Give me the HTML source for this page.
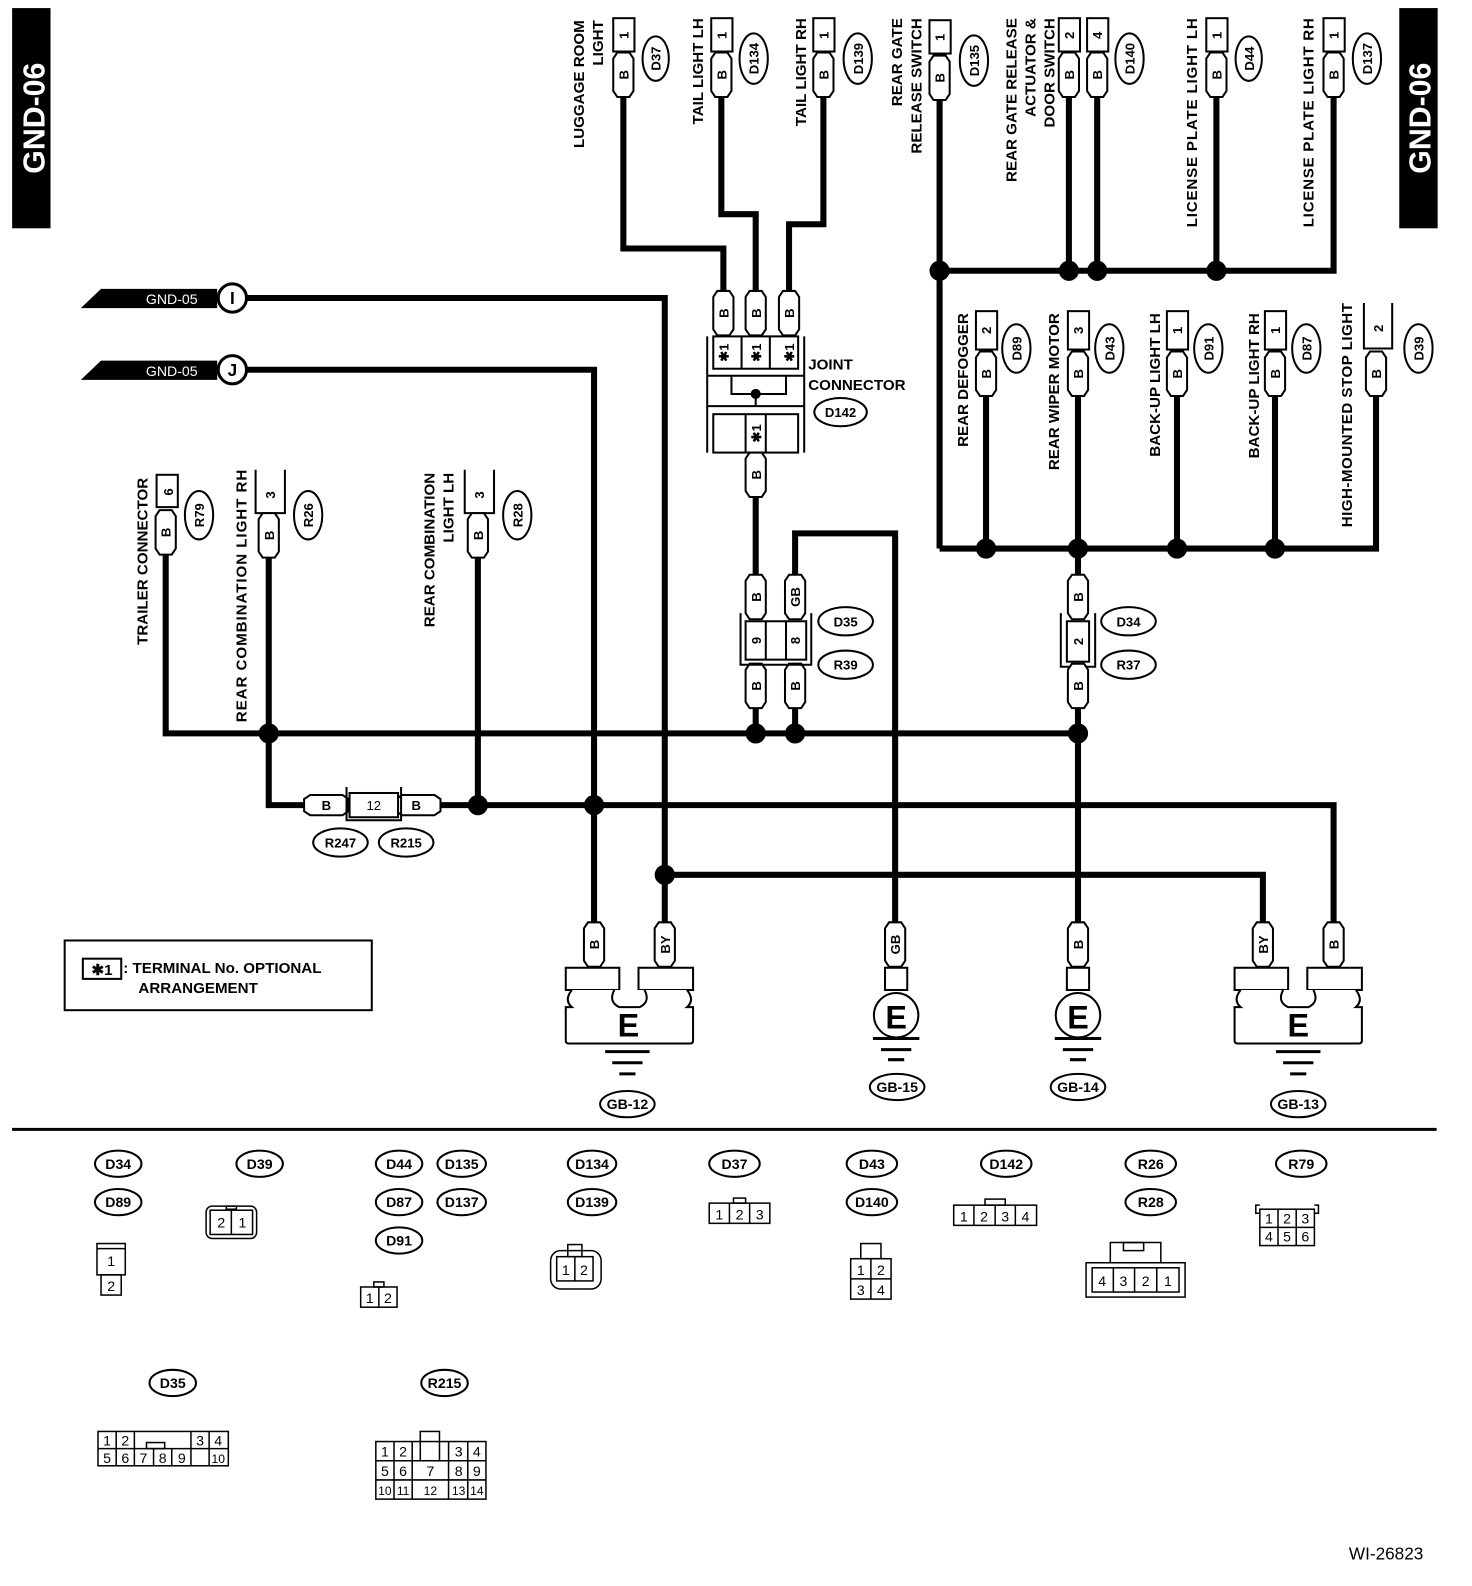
<!DOCTYPE html>
<html><head><meta charset="utf-8"><style>
html,body{margin:0;padding:0;background:#fff}
svg{display:block}
text{font-family:"Liberation Sans",sans-serif;font-weight:bold;fill:#000}
.n{font-weight:normal}
</style></head><body>
<svg width="1472" height="1586" viewBox="0 0 1457 1570" preserveAspectRatio="none" xmlns="http://www.w3.org/2000/svg">
<defs>
<path id="tg" d="M-10,-16 L-6,-22 L6,-22 L10,-16 L10,16 L6,22 L-6,22 L-10,16 Z" fill="#fff" stroke="#000" stroke-width="2"/>
</defs>
<!-- side tabs -->
<rect x="12" y="8" width="38" height="218" fill="#000"/>
<text transform="translate(44,117) rotate(-90)" text-anchor="middle" font-size="30" style="fill:#fff">GND-06</text>
<rect x="1385" y="8" width="38" height="218" fill="#000"/>
<text transform="translate(1416,117) rotate(-90)" text-anchor="middle" font-size="30" style="fill:#fff">GND-06</text>

<g fill="none" stroke="#000" stroke-width="6">
<!-- top left group -->
<polyline points="617,96 617,246 716,246 716,290"/>
<polyline points="714,96 714,212 748,212 748,290"/>
<polyline points="815,96 815,222 781,222 781,290"/>
<line x1="748" y1="490" x2="748" y2="570"/>
<polyline points="787,570 787,528 886,528 886,915"/>
<line x1="748" y1="700" x2="748" y2="726"/>
<line x1="787" y1="700" x2="787" y2="726"/>
<!-- main buses -->
<polyline points="164,548 164,726 1067,726"/>
<polyline points="266,548 266,797 303,797"/>
<line x1="473" y1="548" x2="473" y2="797"/>
<polyline points="431,797 1320,797 1320,915"/>
<polyline points="245,295 658,295 658,915"/>
<polyline points="245,366 588,366 588,915"/>
<polyline points="658,866 1250,866 1250,915"/>
<!-- right top -->
<line x1="930" y1="100" x2="930" y2="543"/>
<polyline points="930,268 1320,268 1320,96"/>
<line x1="1058" y1="96" x2="1058" y2="268"/>
<line x1="1086" y1="96" x2="1086" y2="268"/>
<line x1="1204" y1="96" x2="1204" y2="268"/>
<polyline points="930,543 1362,543 1362,390"/>
<line x1="976" y1="390" x2="976" y2="543"/>
<line x1="1067" y1="390" x2="1067" y2="570"/>
<line x1="1165" y1="390" x2="1165" y2="543"/>
<line x1="1262" y1="390" x2="1262" y2="543"/>
<line x1="1067" y1="700" x2="1067" y2="915"/>
</g>
<g fill="#000">
<circle cx="266" cy="726" r="10"/><circle cx="748" cy="726" r="10"/><circle cx="787" cy="726" r="10"/><circle cx="1067" cy="726" r="10"/>
<circle cx="473" cy="797" r="10"/><circle cx="588" cy="797" r="10"/><circle cx="658" cy="866" r="10"/>
<circle cx="930" cy="268" r="10"/><circle cx="1058" cy="268" r="10"/><circle cx="1086" cy="268" r="10"/><circle cx="1204" cy="268" r="10"/>
<circle cx="976" cy="543" r="10"/><circle cx="1067" cy="543" r="10"/><circle cx="1165" cy="543" r="10"/><circle cx="1262" cy="543" r="10"/>
</g>

<!-- top connectors -->
<g fill="#fff" stroke="#000" stroke-width="2">
<rect x="607" y="18" width="21" height="33"/><rect x="704" y="18" width="21" height="33"/><rect x="805" y="18" width="21" height="33"/>
<rect x="920" y="20" width="21" height="33"/><rect x="1048" y="18" width="21" height="33"/><rect x="1076" y="18" width="21" height="33"/>
<rect x="1194" y="18" width="21" height="33"/><rect x="1310" y="18" width="21" height="33"/>
<ellipse cx="649" cy="58" rx="13" ry="22"/><ellipse cx="746" cy="58" rx="14" ry="25"/><ellipse cx="849" cy="58" rx="14" ry="25"/>
<ellipse cx="964" cy="60" rx="14" ry="25"/><ellipse cx="1118" cy="58" rx="14" ry="25"/><ellipse cx="1236" cy="58" rx="13" ry="22"/><ellipse cx="1353" cy="58" rx="14" ry="25"/>
</g>
<use href="#tg" x="617" y="74"/><use href="#tg" x="714" y="74"/><use href="#tg" x="815" y="74"/><use href="#tg" x="930" y="77"/>
<use href="#tg" x="1058" y="74"/><use href="#tg" x="1086" y="74"/><use href="#tg" x="1204" y="74"/><use href="#tg" x="1320" y="74"/>
<g font-size="13" text-anchor="middle">
<text transform="translate(622,35) rotate(-90)">1</text><text transform="translate(719,35) rotate(-90)">1</text><text transform="translate(820,35) rotate(-90)">1</text>
<text transform="translate(935,37) rotate(-90)">1</text><text transform="translate(1063,35) rotate(-90)">2</text><text transform="translate(1091,35) rotate(-90)">4</text>
<text transform="translate(1209,35) rotate(-90)">1</text><text transform="translate(1325,35) rotate(-90)">1</text>
<text transform="translate(622,74) rotate(-90)">B</text><text transform="translate(719,74) rotate(-90)">B</text><text transform="translate(820,74) rotate(-90)">B</text>
<text transform="translate(935,77) rotate(-90)">B</text><text transform="translate(1063,74) rotate(-90)">B</text><text transform="translate(1091,74) rotate(-90)">B</text>
<text transform="translate(1209,74) rotate(-90)">B</text><text transform="translate(1325,74) rotate(-90)">B</text>
<text transform="translate(654,58) rotate(-90)">D37</text><text transform="translate(751,58) rotate(-90)">D134</text><text transform="translate(854,58) rotate(-90)">D139</text>
<text transform="translate(969,60) rotate(-90)">D135</text><text transform="translate(1123,58) rotate(-90)">D140</text><text transform="translate(1241,58) rotate(-90)">D44</text><text transform="translate(1358,58) rotate(-90)">D137</text>
</g>
<g font-size="15" text-anchor="end">
<text transform="translate(578,20) rotate(-90)">LUGGAGE ROOM</text><text transform="translate(597,20) rotate(-90)">LIGHT</text>
<text transform="translate(696,18) rotate(-90)">TAIL LIGHT LH</text><text transform="translate(798,18) rotate(-90)">TAIL LIGHT RH</text>
<text transform="translate(893,18) rotate(-90)">REAR GATE</text><text transform="translate(912,18) rotate(-90)">RELEASE SWITCH</text>
<text transform="translate(1006,18) rotate(-90)">REAR GATE RELEASE</text><text transform="translate(1025,18) rotate(-90)">ACTUATOR &amp;</text><text transform="translate(1044,18) rotate(-90)">DOOR SWITCH</text>
<text transform="translate(1185,18) rotate(-90)" textLength="207">LICENSE PLATE LIGHT LH</text><text transform="translate(1300,18) rotate(-90)" textLength="207">LICENSE PLATE LIGHT RH</text>
</g>

<!-- joint connector -->
<use href="#tg" x="716" y="310"/><use href="#tg" x="748" y="310"/><use href="#tg" x="781" y="310"/>
<g fill="none" stroke="#000" stroke-width="2">
<line x1="700" y1="333" x2="700" y2="448"/><line x1="796" y1="333" x2="796" y2="448"/>
<rect x="706" y="333" width="84" height="32"/><line x1="734" y1="333" x2="734" y2="365"/><line x1="762" y1="333" x2="762" y2="365"/>
<line x1="700" y1="372" x2="796" y2="372"/><polyline points="724,372 724,390 778,390 778,372"/><line x1="748" y1="390" x2="748" y2="402"/>
<line x1="700" y1="402" x2="796" y2="402"/><rect x="706" y="410" width="84" height="38"/><line x1="738" y1="410" x2="738" y2="448"/><line x1="758" y1="410" x2="758" y2="448"/>
</g>
<circle cx="748" cy="390" r="5"/>
<use href="#tg" x="748" y="470"/>
<g font-size="13" text-anchor="middle">
<text transform="translate(721,310) rotate(-90)">B</text><text transform="translate(753,310) rotate(-90)">B</text><text transform="translate(786,310) rotate(-90)">B</text>
<text transform="translate(721,349) rotate(-90)">✱1</text><text transform="translate(753,349) rotate(-90)">✱1</text><text transform="translate(786,349) rotate(-90)">✱1</text>
<text transform="translate(753,429) rotate(-90)">✱1</text><text transform="translate(753,470) rotate(-90)">B</text>
</g>
<text x="800" y="366" font-size="15">JOINT</text><text x="800" y="386" font-size="15">CONNECTOR</text>
<ellipse cx="832" cy="408" rx="26" ry="14" fill="#fff" stroke="#000" stroke-width="2"/><text x="832" y="413" font-size="13" text-anchor="middle">D142</text>

<!-- D35/R39 -->
<use href="#tg" x="748" y="591"/><use href="#tg" x="787" y="591"/><use href="#tg" x="748" y="679"/><use href="#tg" x="787" y="679"/>
<g fill="none" stroke="#000" stroke-width="2">
<rect x="738" y="615" width="60" height="38"/><line x1="758" y1="615" x2="758" y2="653"/><line x1="778" y1="615" x2="778" y2="653"/>
<polyline points="733,607 733,658 803,658 803,607"/>
<rect x="1056" y="615" width="22" height="40"/><polyline points="1050,607 1050,660 1084,660 1084,607"/>
</g>
<g fill="#fff" stroke="#000" stroke-width="2">
<ellipse cx="837" cy="615" rx="27" ry="14"/><ellipse cx="837" cy="658" rx="27" ry="14"/>
<ellipse cx="1117" cy="615" rx="27" ry="14"/><ellipse cx="1117" cy="658" rx="27" ry="14"/>
</g>
<use href="#tg" x="1067" y="591"/><use href="#tg" x="1067" y="679"/>
<g font-size="13" text-anchor="middle">
<text transform="translate(753,591) rotate(-90)">B</text><text transform="translate(792,591) rotate(-90)">GB</text>
<text transform="translate(753,679) rotate(-90)">B</text><text transform="translate(792,679) rotate(-90)">B</text>
<text transform="translate(753,634) rotate(-90)">9</text><text transform="translate(792,634) rotate(-90)">8</text>
<text transform="translate(1072,591) rotate(-90)">B</text><text transform="translate(1072,679) rotate(-90)">B</text><text transform="translate(1072,635) rotate(-90)">2</text>
<text x="837" y="620">D35</text><text x="837" y="663">R39</text><text x="1117" y="620">D34</text><text x="1117" y="663">R37</text>
</g>

<!-- lower-right connectors -->
<g fill="#fff" stroke="#000" stroke-width="2">
<rect x="966" y="308" width="21" height="38"/><rect x="1057" y="308" width="21" height="38"/><rect x="1155" y="308" width="21" height="38"/><rect x="1252" y="308" width="21" height="38"/>
<ellipse cx="1006" cy="345" rx="14" ry="24"/><ellipse cx="1098" cy="345" rx="14" ry="24"/><ellipse cx="1196" cy="345" rx="14" ry="24"/><ellipse cx="1293" cy="345" rx="14" ry="24"/><ellipse cx="1404" cy="345" rx="14" ry="24"/>
</g>
<polyline points="1350,300 1350,345 1378,345 1378,300" fill="none" stroke="#000" stroke-width="2"/>
<use href="#tg" x="976" y="370"/><use href="#tg" x="1067" y="370"/><use href="#tg" x="1165" y="370"/><use href="#tg" x="1262" y="370"/><use href="#tg" x="1362" y="370"/>
<g font-size="13" text-anchor="middle">
<text transform="translate(981,327) rotate(-90)">2</text><text transform="translate(1072,327) rotate(-90)">3</text><text transform="translate(1170,327) rotate(-90)">1</text><text transform="translate(1267,327) rotate(-90)">1</text><text transform="translate(1369,325) rotate(-90)">2</text>
<text transform="translate(981,370) rotate(-90)">B</text><text transform="translate(1072,370) rotate(-90)">B</text><text transform="translate(1170,370) rotate(-90)">B</text><text transform="translate(1267,370) rotate(-90)">B</text><text transform="translate(1367,370) rotate(-90)">B</text>
<text transform="translate(1011,345) rotate(-90)">D89</text><text transform="translate(1103,345) rotate(-90)">D43</text><text transform="translate(1201,345) rotate(-90)">D91</text><text transform="translate(1298,345) rotate(-90)">D87</text><text transform="translate(1409,345) rotate(-90)">D39</text>
</g>
<g font-size="15" text-anchor="end">
<text transform="translate(958,310) rotate(-90)">REAR DEFOGGER</text><text transform="translate(1048,310) rotate(-90)">REAR WIPER MOTOR</text>
<text transform="translate(1148,310) rotate(-90)">BACK-UP LIGHT LH</text><text transform="translate(1246,310) rotate(-90)">BACK-UP LIGHT RH</text>
<text transform="translate(1338,300) rotate(-90)" textLength="222">HIGH-MOUNTED STOP LIGHT</text>
</g>

<!-- left connectors -->
<g fill="#fff" stroke="#000" stroke-width="2">
<rect x="155" y="470" width="21" height="32"/>
<ellipse cx="197" cy="510" rx="14" ry="24"/><ellipse cx="305" cy="510" rx="14" ry="24"/><ellipse cx="512" cy="510" rx="14" ry="24"/>
</g>
<g fill="none" stroke="#000" stroke-width="2"><polyline points="253,465 253,508 282,508 282,465"/><polyline points="460,465 460,508 489,508 489,465"/></g>
<use href="#tg" x="164" y="527"/><use href="#tg" x="266" y="530"/><use href="#tg" x="473" y="530"/>
<g font-size="13" text-anchor="middle">
<text transform="translate(171,487) rotate(-90)">6</text><text transform="translate(272,490) rotate(-90)">3</text><text transform="translate(479,490) rotate(-90)">3</text>
<text transform="translate(169,527) rotate(-90)">B</text><text transform="translate(271,530) rotate(-90)">B</text><text transform="translate(478,530) rotate(-90)">B</text>
<text transform="translate(202,510) rotate(-90)">R79</text><text transform="translate(310,510) rotate(-90)">R26</text><text transform="translate(517,510) rotate(-90)">R28</text>
</g>
<g font-size="15" text-anchor="end">
<text transform="translate(146,473) rotate(-90)">TRAILER CONNECTOR</text>
<text transform="translate(244,465) rotate(-90)" textLength="250">REAR COMBINATION LIGHT RH</text>
<text transform="translate(430,468) rotate(-90)">REAR COMBINATION</text><text transform="translate(449,468) rotate(-90)">LIGHT LH</text>
</g>

<!-- R247/R215 -->
<use href="#tg" transform="translate(323,797) rotate(90)"/><use href="#tg" transform="translate(414,797) rotate(90)"/>
<rect x="346" y="785" width="48" height="24" fill="#fff" stroke="#000" stroke-width="2"/>
<polyline points="343,779 343,812 397,812 397,779" fill="none" stroke="#000" stroke-width="2" transform="rotate(0)"/>
<g font-size="13" text-anchor="middle">
<text x="323" y="802">B</text><text x="370" y="802" class="n">12</text><text x="412" y="802">B</text>
</g>
<g fill="#fff" stroke="#000" stroke-width="2"><ellipse cx="337" cy="834" rx="27" ry="14"/><ellipse cx="402" cy="834" rx="27" ry="14"/></g>
<text x="337" y="839" font-size="13" text-anchor="middle">R247</text><text x="402" y="839" font-size="13" text-anchor="middle">R215</text>

<!-- GND-05 arrows -->
<polygon points="80,305 100,286 215,286 215,305" fill="#000"/>
<polygon points="80,376 100,357 215,357 215,376" fill="#000"/>
<text x="170" y="301" font-size="14" text-anchor="middle" class="n" style="fill:#fff">GND-05</text>
<text x="170" y="372" font-size="14" text-anchor="middle" class="n" style="fill:#fff">GND-05</text>
<g fill="#fff" stroke="#000" stroke-width="3"><circle cx="230" cy="295" r="14"/><circle cx="230" cy="366" r="14"/></g>
<text x="230" y="301" font-size="17" text-anchor="middle">I</text><text x="230" y="372" font-size="17" text-anchor="middle">J</text>

<!-- grounds -->
<use href="#tg" x="588" y="935"/><use href="#tg" x="658" y="935"/><use href="#tg" x="886" y="935"/><use href="#tg" x="1067" y="935"/><use href="#tg" x="1250" y="935"/><use href="#tg" x="1320" y="935"/>
<g font-size="13" text-anchor="middle">
<text transform="translate(593,935) rotate(-90)">B</text><text transform="translate(663,935) rotate(-90)">BY</text><text transform="translate(891,935) rotate(-90)">GB</text>
<text transform="translate(1072,935) rotate(-90)">B</text><text transform="translate(1255,935) rotate(-90)">BY</text><text transform="translate(1325,935) rotate(-90)">B</text>
</g>
<g fill="#fff" stroke="#000" stroke-width="2">
<rect x="560" y="958" width="53" height="22"/><rect x="632" y="958" width="54" height="22"/>
<path d="M566,980 Q558,990 566,997 L560,997 L560,1030 Q560,1033 563,1033 L683,1033 Q686,1033 686,1030 L686,997 L680,997 Q688,990 680,980 M608,980 Q602,992 613,997 L633,997 Q644,992 638,980"/>
<rect x="1222" y="958" width="53" height="22"/><rect x="1294" y="958" width="54" height="22"/>
<path d="M1228,980 Q1220,990 1228,997 L1222,997 L1222,1030 Q1222,1033 1225,1033 L1345,1033 Q1348,1033 1348,1030 L1348,997 L1342,997 Q1350,990 1342,980 M1270,980 Q1264,992 1275,997 L1295,997 Q1306,992 1300,980"/>
<rect x="876" y="958" width="22" height="22"/><circle cx="887" cy="1005" r="22"/>
<rect x="1056" y="958" width="22" height="22"/><circle cx="1067" cy="1005" r="22"/>
</g>
<g font-size="32" text-anchor="middle"><text x="622" y="1026">E</text><text x="1285" y="1026">E</text><text x="887" y="1018">E</text><text x="1067" y="1018">E</text></g>
<g stroke="#000" stroke-width="3">
<line x1="599" y1="1041" x2="643" y2="1041"/><line x1="606" y1="1052" x2="636" y2="1052"/><line x1="613" y1="1063" x2="629" y2="1063"/>
<line x1="1263" y1="1041" x2="1307" y2="1041"/><line x1="1270" y1="1052" x2="1300" y2="1052"/><line x1="1277" y1="1063" x2="1293" y2="1063"/>
<line x1="864" y1="1028" x2="910" y2="1028"/><line x1="872" y1="1039" x2="902" y2="1039"/><line x1="879" y1="1049" x2="895" y2="1049"/>
<line x1="1044" y1="1028" x2="1090" y2="1028"/><line x1="1052" y1="1039" x2="1082" y2="1039"/><line x1="1059" y1="1049" x2="1075" y2="1049"/>
</g>
<g fill="#fff" stroke="#000" stroke-width="2">
<ellipse cx="621" cy="1093" rx="27" ry="13"/><ellipse cx="888" cy="1076" rx="27" ry="13"/><ellipse cx="1067" cy="1076" rx="27" ry="13"/><ellipse cx="1285" cy="1093" rx="27" ry="13"/>
</g>
<g font-size="14" text-anchor="middle"><text x="621" y="1098">GB-12</text><text x="888" y="1081">GB-15</text><text x="1067" y="1081">GB-14</text><text x="1285" y="1098">GB-13</text></g>

<!-- legend -->
<rect x="64" y="931" width="304" height="69" fill="none" stroke="#000" stroke-width="2"/>
<rect x="82" y="949" width="38" height="20" fill="none" stroke="#000" stroke-width="2"/>
<text x="101" y="965" font-size="15" text-anchor="middle">✱1</text>
<text x="122" y="963" font-size="15">: TERMINAL No. OPTIONAL</text>
<text x="137" y="983" font-size="15">ARRANGEMENT</text>

<line x1="12" y1="1118" x2="1422" y2="1118" stroke="#000" stroke-width="3"/>

<!-- bottom connector views -->
<g fill="#fff" stroke="#000" stroke-width="2">
<ellipse cx="117" cy="1152" rx="23" ry="13"/><ellipse cx="117" cy="1190" rx="23" ry="13"/>
<ellipse cx="257" cy="1152" rx="23" ry="13"/>
<ellipse cx="395" cy="1152" rx="23" ry="13"/><ellipse cx="457" cy="1152" rx="24" ry="13"/><ellipse cx="395" cy="1190" rx="23" ry="13"/><ellipse cx="457" cy="1190" rx="24" ry="13"/><ellipse cx="395" cy="1228" rx="23" ry="13"/>
<ellipse cx="586" cy="1152" rx="24" ry="13"/><ellipse cx="586" cy="1190" rx="24" ry="13"/>
<ellipse cx="727" cy="1152" rx="25" ry="13"/>
<ellipse cx="863" cy="1152" rx="25" ry="13"/><ellipse cx="863" cy="1190" rx="25" ry="13"/>
<ellipse cx="996" cy="1152" rx="25" ry="13"/>
<ellipse cx="1139" cy="1152" rx="25" ry="13"/><ellipse cx="1139" cy="1190" rx="25" ry="13"/>
<ellipse cx="1288" cy="1152" rx="25" ry="13"/>
<ellipse cx="171" cy="1369" rx="23" ry="13"/><ellipse cx="440" cy="1369" rx="23" ry="13"/>
</g>
<g font-size="14" text-anchor="middle">
<text x="117" y="1157">D34</text><text x="117" y="1195">D89</text><text x="257" y="1157">D39</text>
<text x="395" y="1157">D44</text><text x="457" y="1157">D135</text><text x="395" y="1195">D87</text><text x="457" y="1195">D137</text><text x="395" y="1233">D91</text>
<text x="586" y="1157">D134</text><text x="586" y="1195">D139</text><text x="727" y="1157">D37</text>
<text x="863" y="1157">D43</text><text x="863" y="1195">D140</text><text x="996" y="1157">D142</text>
<text x="1139" y="1157">R26</text><text x="1139" y="1195">R28</text><text x="1288" y="1157">R79</text>
<text x="171" y="1374">D35</text><text x="440" y="1374">R215</text>
</g>
<g fill="none" stroke="#000" stroke-width="1.5">
<!-- D34 -->
<rect x="96" y="1231" width="28" height="31"/><line x1="96" y1="1236" x2="124" y2="1236"/><rect x="100" y="1262" width="20" height="20"/>
<!-- D39 -->
<rect x="204" y="1194" width="50" height="32" rx="6"/><rect x="208" y="1198" width="42" height="24"/><line x1="229" y1="1198" x2="229" y2="1222"/><rect x="224" y="1194" width="10" height="3"/>
<!-- D44 -->
<rect x="357" y="1274" width="36" height="20"/><line x1="375" y1="1274" x2="375" y2="1294"/><rect x="370" y="1269" width="10" height="5"/>
<!-- D134 -->
<rect x="545" y="1238" width="50" height="38" rx="10"/><rect x="551" y="1244" width="36" height="24"/><line x1="569" y1="1244" x2="569" y2="1268"/><rect x="562" y="1232" width="14" height="12"/>
<!-- D37 -->
<rect x="702" y="1191" width="60" height="20"/><line x1="722" y1="1191" x2="722" y2="1211"/><line x1="742" y1="1191" x2="742" y2="1211"/><rect x="726" y="1186" width="12" height="5"/>
<!-- D43 -->
<rect x="842" y="1246" width="40" height="40"/><line x1="862" y1="1246" x2="862" y2="1286"/><line x1="842" y1="1266" x2="882" y2="1266"/><rect x="852" y="1231" width="20" height="15"/>
<!-- D142 -->
<rect x="944" y="1193" width="82" height="20"/><line x1="964" y1="1193" x2="964" y2="1213"/><line x1="985" y1="1193" x2="985" y2="1213"/><line x1="1005" y1="1193" x2="1005" y2="1213"/><rect x="975" y="1187" width="20" height="6"/>
<!-- R26 -->
<rect x="1075" y="1250" width="98" height="34"/><rect x="1081" y="1255" width="86" height="24"/><line x1="1102" y1="1255" x2="1102" y2="1279"/><line x1="1123" y1="1255" x2="1123" y2="1279"/><line x1="1145" y1="1255" x2="1145" y2="1279"/>
<polyline points="1099,1250 1099,1230 1149,1230 1149,1250"/><rect x="1112" y="1230" width="20" height="8"/>
<!-- R79 -->
<rect x="1247" y="1197" width="54" height="36"/><line x1="1265" y1="1197" x2="1265" y2="1233"/><line x1="1283" y1="1197" x2="1283" y2="1233"/><line x1="1247" y1="1215" x2="1301" y2="1215"/>
<polyline points="1247,1201 1243,1201 1243,1193 1247,1193"/><polyline points="1301,1201 1305,1201 1305,1193 1301,1193"/>
<!-- D35 -->
<rect x="97" y="1417" width="129" height="34"/><line x1="97" y1="1434" x2="126" y2="1434"/><line x1="189" y1="1434" x2="226" y2="1434"/><line x1="126" y1="1434" x2="189" y2="1434"/>
<line x1="115" y1="1417" x2="115" y2="1451"/><line x1="133" y1="1417" x2="133" y2="1451"/><line x1="152" y1="1434" x2="152" y2="1451"/><line x1="170" y1="1434" x2="170" y2="1451"/><line x1="189" y1="1417" x2="189" y2="1451"/><line x1="207" y1="1417" x2="207" y2="1451"/>
<rect x="145" y="1428" width="18" height="6"/>
<!-- R215 -->
<rect x="372" y="1427" width="109" height="57"/><line x1="372" y1="1446" x2="481" y2="1446"/><line x1="372" y1="1465" x2="481" y2="1465"/>
<line x1="390" y1="1427" x2="390" y2="1484"/><line x1="408" y1="1427" x2="408" y2="1484"/><line x1="444" y1="1427" x2="444" y2="1484"/><line x1="463" y1="1427" x2="463" y2="1484"/>
<rect x="416" y="1417" width="19" height="29"/>
</g>
<g font-size="14" text-anchor="middle" class="n">
<text class="n" x="110" y="1253" style="font-weight:normal">1</text><text x="110" y="1278" style="font-weight:normal">2</text>
<text x="219" y="1215" style="font-weight:normal">2</text><text x="240" y="1215" style="font-weight:normal">1</text>
<text x="366" y="1290" style="font-weight:normal">1</text><text x="384" y="1290" style="font-weight:normal">2</text>
<text x="560" y="1262" style="font-weight:normal">1</text><text x="578" y="1262" style="font-weight:normal">2</text>
<text x="712" y="1207" style="font-weight:normal">1</text><text x="732" y="1207" style="font-weight:normal">2</text><text x="752" y="1207" style="font-weight:normal">3</text>
<text x="852" y="1262" style="font-weight:normal">1</text><text x="872" y="1262" style="font-weight:normal">2</text><text x="852" y="1282" style="font-weight:normal">3</text><text x="872" y="1282" style="font-weight:normal">4</text>
<text x="954" y="1209" style="font-weight:normal">1</text><text x="974" y="1209" style="font-weight:normal">2</text><text x="995" y="1209" style="font-weight:normal">3</text><text x="1015" y="1209" style="font-weight:normal">4</text>
<text x="1091" y="1273" style="font-weight:normal">4</text><text x="1112" y="1273" style="font-weight:normal">3</text><text x="1134" y="1273" style="font-weight:normal">2</text><text x="1156" y="1273" style="font-weight:normal">1</text>
<text x="1256" y="1211" style="font-weight:normal">1</text><text x="1274" y="1211" style="font-weight:normal">2</text><text x="1292" y="1211" style="font-weight:normal">3</text>
<text x="1256" y="1229" style="font-weight:normal">4</text><text x="1274" y="1229" style="font-weight:normal">5</text><text x="1292" y="1229" style="font-weight:normal">6</text>
<text x="106" y="1431" style="font-weight:normal">1</text><text x="124" y="1431" style="font-weight:normal">2</text><text x="198" y="1431" style="font-weight:normal">3</text><text x="216" y="1431" style="font-weight:normal">4</text>
<text x="106" y="1448" style="font-weight:normal">5</text><text x="124" y="1448" style="font-weight:normal">6</text><text x="142" y="1448" style="font-weight:normal">7</text><text x="161" y="1448" style="font-weight:normal">8</text><text x="180" y="1448" style="font-weight:normal">9</text><text x="216" y="1448" font-size="12" style="font-weight:normal">10</text>
<text x="381" y="1442" style="font-weight:normal">1</text><text x="399" y="1442" style="font-weight:normal">2</text><text x="454" y="1442" style="font-weight:normal">3</text><text x="472" y="1442" style="font-weight:normal">4</text>
<text x="381" y="1461" style="font-weight:normal">5</text><text x="399" y="1461" style="font-weight:normal">6</text><text x="426" y="1461" style="font-weight:normal">7</text><text x="454" y="1461" style="font-weight:normal">8</text><text x="472" y="1461" style="font-weight:normal">9</text>
<text x="381" y="1480" font-size="12" style="font-weight:normal">10</text><text x="399" y="1480" font-size="12" style="font-weight:normal">11</text><text x="426" y="1480" font-size="12" style="font-weight:normal">12</text><text x="454" y="1480" font-size="12" style="font-weight:normal">13</text><text x="472" y="1480" font-size="12" style="font-weight:normal">14</text>
</g>
<text x="1372" y="1544" font-size="17" text-anchor="middle" style="font-weight:normal">WI-26823</text>
</svg>
</body></html>
